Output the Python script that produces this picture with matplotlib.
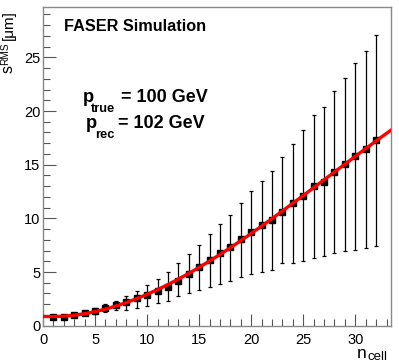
import matplotlib.pyplot as plt
import numpy as np

plt.rcParams['font.family'] = ['Liberation Sans', 'DejaVu Sans']

n_cell = np.arange(1, 33)
s_rms = np.array([0.78, 0.83, 1.02, 1.17, 1.37, 1.65, 1.92, 2.18, 2.54, 2.90,
                  3.25, 3.62, 4.20, 4.84, 5.44, 6.09, 6.74, 7.30, 8.05, 8.70,
                  9.35, 9.88, 10.62, 11.40, 12.11, 13.01, 13.41, 14.29, 15.06,
                  15.81, 16.43, 17.30])
s_hi = np.array([0.90, 0.95, 1.14, 1.40, 1.65, 2.00, 2.30, 2.77, 3.27, 3.80,
                 4.37, 5.00, 5.80, 6.65, 7.55, 8.51, 9.52, 10.35, 11.42, 12.57,
                 13.51, 14.44, 15.71, 16.95, 18.20, 19.63, 20.40, 21.89, 23.10,
                 24.47, 25.62, 27.08])
s_lo = np.array([0.66, 0.71, 0.90, 0.95, 1.07, 1.31, 1.45, 1.50, 1.63, 1.88,
                 2.13, 2.30, 2.74, 3.01, 3.33, 3.63, 3.91, 4.16, 4.51, 4.79,
                 5.03, 5.22, 5.81, 5.87, 6.06, 6.34, 6.49, 6.74, 6.93, 7.08,
                 7.22, 7.44])

W, H = 399, 362
fig = plt.figure(figsize=(W / 100, H / 100), dpi=100)
ax = fig.add_axes([0.1078, 0.1003, 0.8714, 0.8795])

ax.errorbar(n_cell, s_rms, yerr=[s_rms - s_lo, s_hi - s_rms], fmt='s',
            color='black', ms=4.2, elinewidth=0.9, capsize=1.6,
            capthick=0.9, zorder=2)

# fit like the original: smooth polynomial through the points
coef = np.polyfit(n_cell, s_rms, 3)
xf = np.linspace(0, 33.4, 300)
ax.plot(xf, np.polyval(coef, xf), color='red', lw=2.4, zorder=3)

ax.set_xlim(0, 33.4)
ax.set_ylim(0, 29.66)
ax.set_xticks(np.arange(0, 35, 5))
ax.set_yticks(np.arange(0, 30, 5))
ax.set_xticks(np.arange(0, 34, 1), minor=True)
ax.set_yticks(np.arange(0, 30, 1), minor=True)
ax.tick_params(which='both', direction='in', top=False, right=False,
               labelsize=10.5, color='#555555')
ax.tick_params(which='major', length=9, width=0.8)
ax.tick_params(which='minor', length=5, width=0.8)
ax.tick_params(axis='y', pad=2)
ax.tick_params(axis='x', pad=5)
for sp in ax.spines.values():
    sp.set_color('#888888')
    sp.set_linewidth(1.0)


def put(x, y, s, **kw):
    # x, y in pixels from top-left
    fig.text(x / W, 1 - y / H, s, **kw)


# y title, rotated, pieces placed by hand (ROOT style)
rot = dict(rotation=90, rotation_mode='anchor', ha='left', va='baseline')
put(12.5, 73, 's', fontsize=11.5, **rot)
put(8.5, 65, 'RMS', fontsize=7.3, **rot)
put(12.5, 40, '[μm]', fontsize=11, **rot)

# x title
put(357, 358, 'n', fontsize=12.5, ha='left', va='baseline')
put(367.5, 359.5, 'cell', fontsize=9.5, ha='left', va='baseline')

put(64, 31, 'FASER Simulation', fontweight='bold', fontsize=11.7,
    ha='left', va='baseline')

b = dict(fontweight='bold', ha='left', va='baseline')
put(83, 101.7, 'p', fontsize=13.2, **b)
put(91, 111.7, 'true', fontsize=9.3, **b)
put(121, 101.7, '= 100 GeV', fontsize=13.0, **b)
put(86, 128.3, 'p', fontsize=13.2, **b)
put(95, 138.5, 'rec', fontsize=9.3, **b)
put(118.5, 128.3, '= 102 GeV', fontsize=13.0, **b)

fig.savefig('out.png', dpi=100)
